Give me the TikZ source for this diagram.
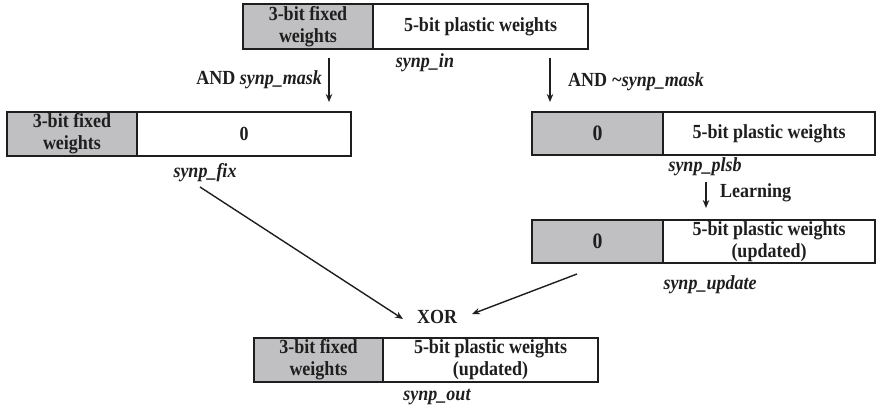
\documentclass[tikz,border=0pt]{standalone}
\usepackage{fontspec}
\setmainfont{Liberation Serif}[FakeStretch=0.9]
\usetikzlibrary{arrows.meta}
\definecolor{cellgray}{RGB}{192,192,194}
\definecolor{ink}{RGB}{30,30,30}
\newcommand{\fs}{\fontsize{20}{22}\selectfont\bfseries}
\tikzset{
  cell/.style={draw=ink, line width=1.8pt, inner sep=0pt, outer sep=0pt, align=center, font=\fs, anchor=north west, text=ink},
  grc/.style={cell, fill=cellgray},
  whc/.style={cell, fill=white},
  lbl/.style={font=\fs\itshape, inner sep=0pt, text=ink},
  txt/.style={font=\fs, inner sep=0pt, text=ink},
  arr/.style={-{Stealth[length=8pt,width=6.5pt]}, line width=1.4pt, draw=ink}
}
\begin{document}
\begin{tikzpicture}[x=1pt,y=-1pt]
\useasboundingbox (0,0) rectangle (878,406);
% top box
\node[grc, minimum width=130pt, minimum height=45pt] (tg) at (243,4) {3-bit fixed\\weights};
\node[whc, minimum width=215pt, minimum height=45pt] (tw) at (373,4) {5-bit plastic weights};
\node[lbl] (inl) at (425,63) {synp\_in};
% left box
\node[grc, minimum width=130pt, minimum height=44pt] (lg) at (7,112) {3-bit fixed\\weights};
\node[whc, minimum width=214pt, minimum height=44pt] (lw) at (137,112) {0};
\node[lbl] (fixl) at (205,173) {synp\_fix};
% plsb box
\node[grc, minimum width=131pt, minimum height=43pt, font=\fontsize{22}{24}\selectfont\bfseries] (pg) at (532,112) {0};
\node[whc, minimum width=212pt, minimum height=43pt] (pw) at (663,112) {5-bit plastic weights};
\node[lbl] (plsbl) at (705,167) {synp\_plsb};
% update box
\node[grc, minimum width=131pt, minimum height=43pt, font=\fontsize{22}{24}\selectfont\bfseries] (ug) at (532,220) {0};
\node[whc, minimum width=212pt, minimum height=43pt] (uw) at (663,220) {5-bit plastic weights\\(updated)};
\node[lbl] (updl) at (710,285) {synp\_update};
% bottom box
\node[grc, minimum width=129pt, minimum height=44pt] (bg) at (254,338) {3-bit fixed\\weights};
\node[whc, minimum width=215pt, minimum height=44pt] (bw) at (383,338) {5-bit plastic weights\\(updated)};
\node[lbl] (outl) at (437,397.5) {synp\_out};
% operation labels
\node[txt, anchor=east] (andm) at (322,80) {AND \textit{synp\_mask}};
\node[txt, anchor=west] (andn) at (568,82) {AND \textit{\textasciitilde synp\_mask}};
\node[txt, anchor=west] (learn) at (720,193) {Learning};
\node[txt] (xor) at (437,317) {XOR};
% arrow end points
\coordinate (a1s) at (329,58);
\coordinate (a1e) at (329,102);
\coordinate (a2s) at (550,58);
\coordinate (a2e) at (550,102);
\coordinate (l1s) at (706,182);
\coordinate (l1e) at (706,208);
\draw[arr] (a1s) -- (a1e);
\draw[arr] (a2s) -- (a2e);
\draw[arr] (l1s) -- (l1e);
\draw[arr] ([xshift=-5pt,yshift=-14pt]fixl.center) -- ([xshift=-34pt,yshift=-2pt]xor.center);
\draw[arr] ([xshift=-20.5pt,yshift=-32.5pt]ug.center) -- ([xshift=35pt,yshift=3pt]xor.center);
\end{tikzpicture}
\end{document}
